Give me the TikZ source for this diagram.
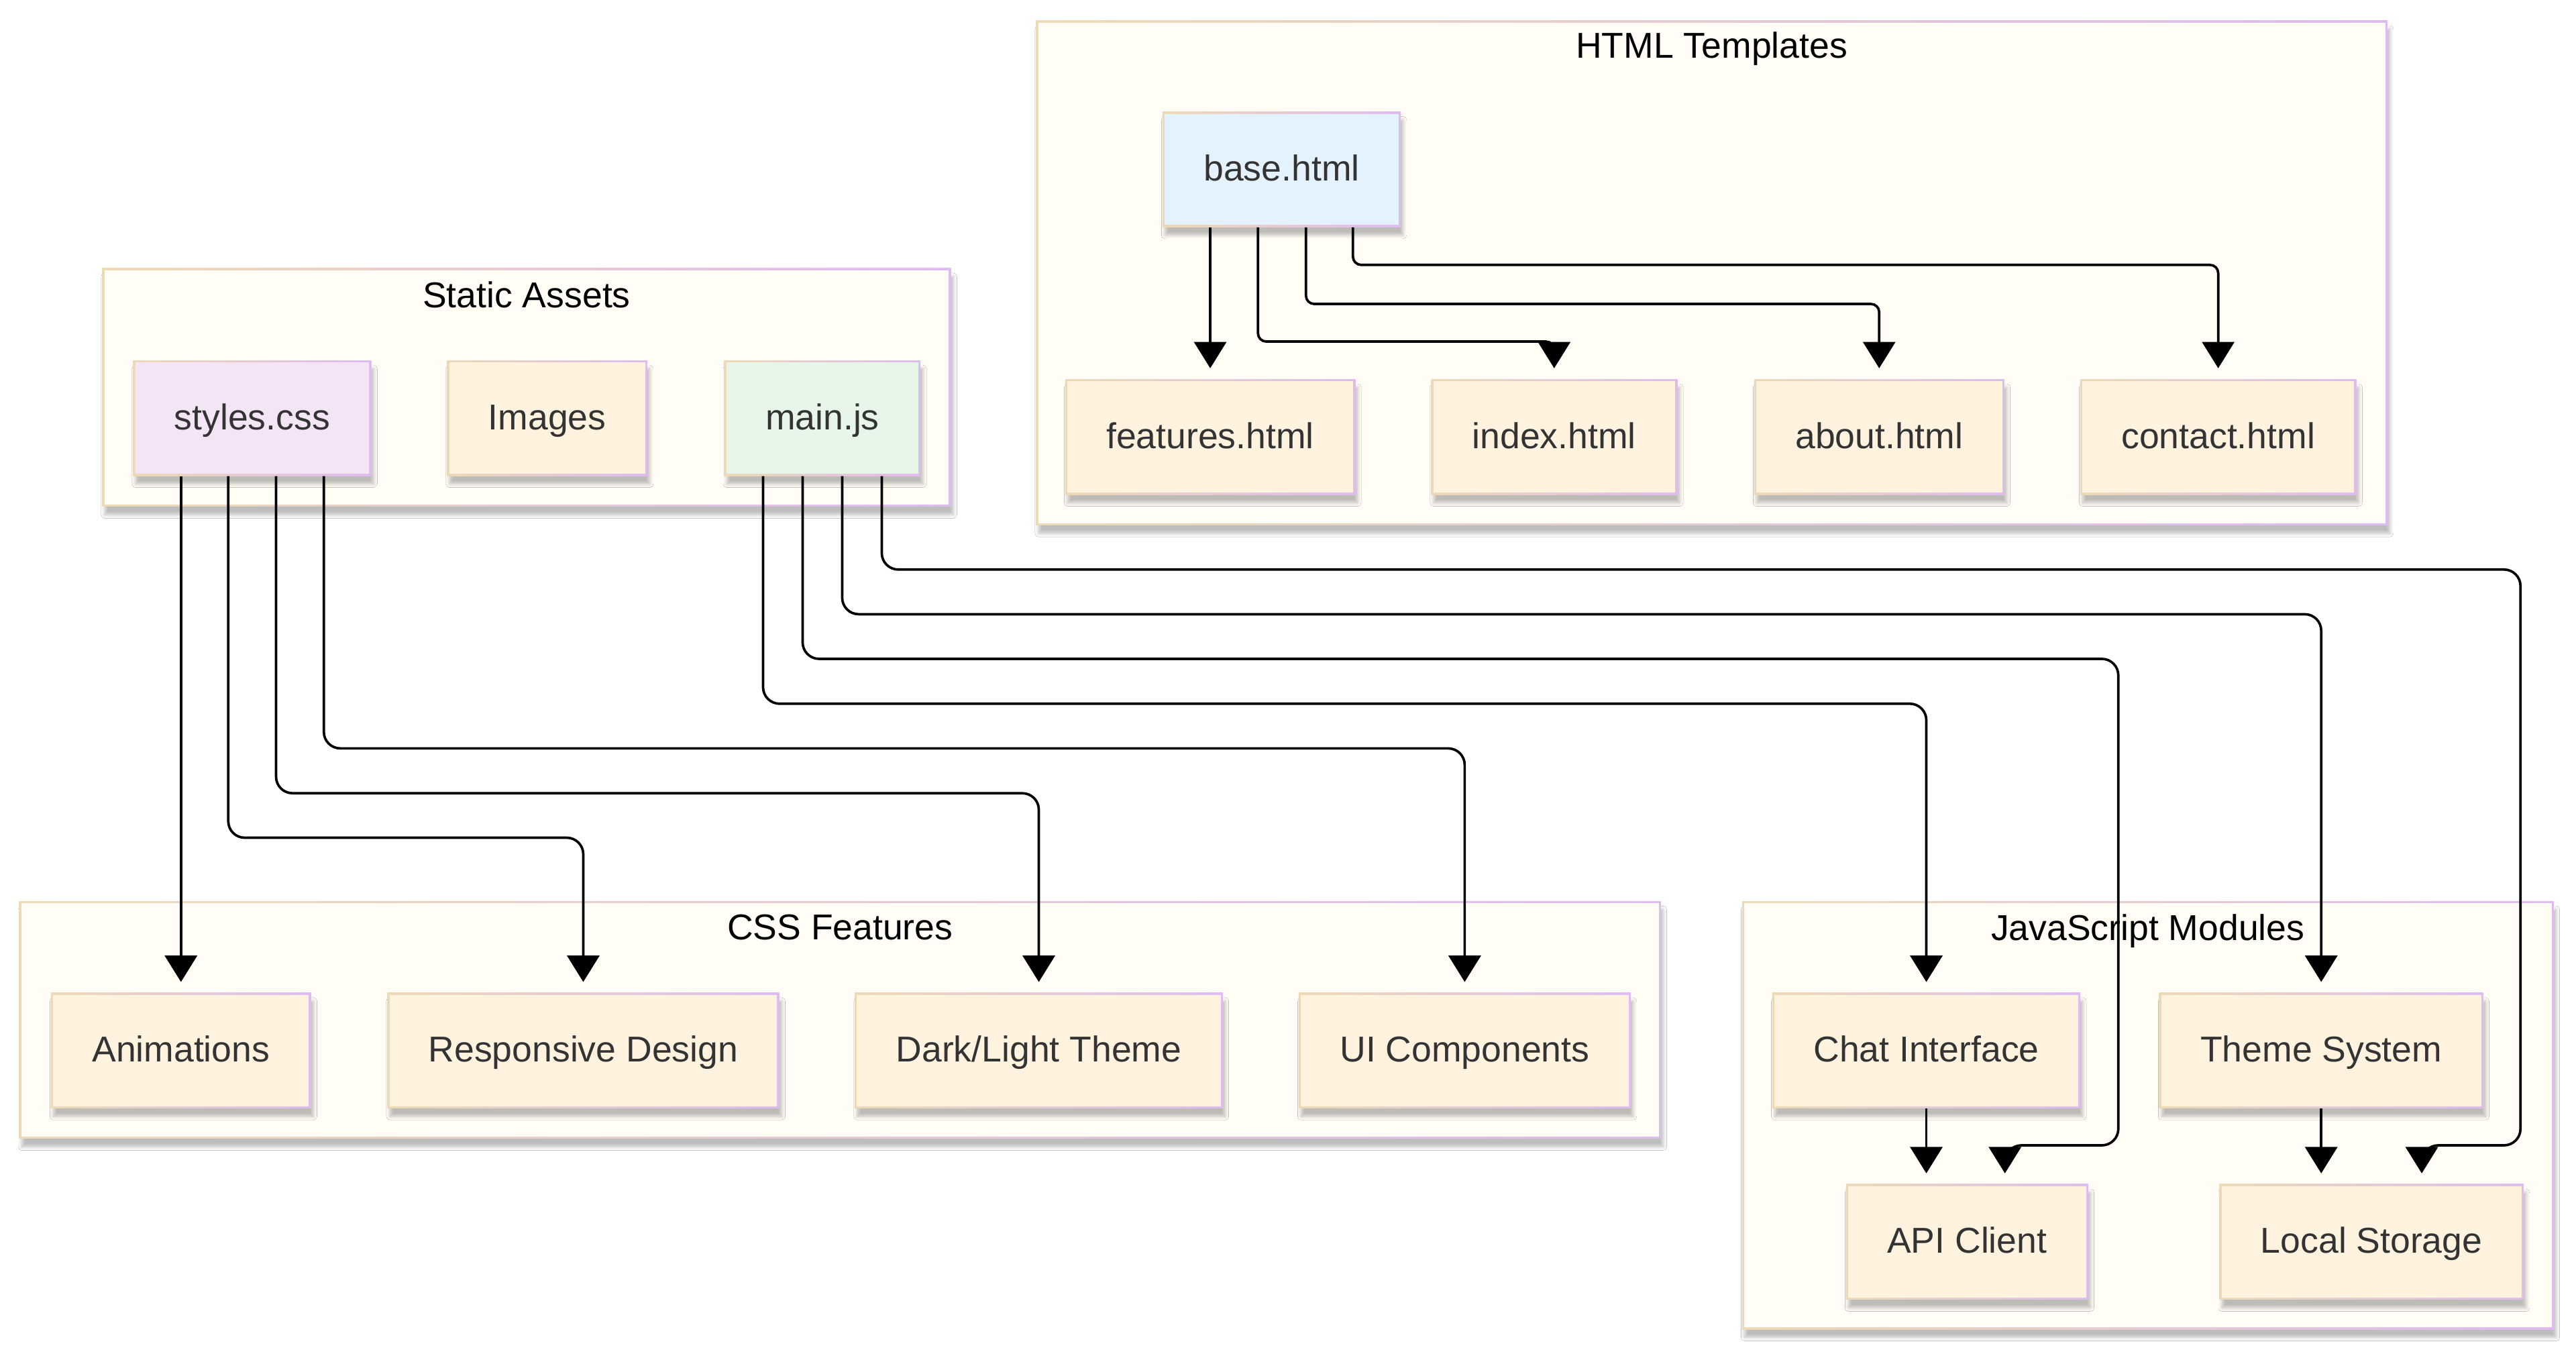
\documentclass[tikz,border=0pt]{standalone}
\usepackage{fontspec}
\setmainfont{Liberation Sans}
\usetikzlibrary{arrows.meta, positioning, shadows.blur}
\definecolor{nodecream}{HTML}{FFF3E0}
\definecolor{clustercream}{HTML}{FFFDF5}
\definecolor{htmlblue}{HTML}{E3F2FD}
\definecolor{cssviolet}{HTML}{F3E5F5}
\definecolor{jsgreen}{HTML}{E8F5E9}
\definecolor{bordertan}{RGB}{236,218,182}
\definecolor{borderlilac}{RGB}{222,188,240}
\definecolor{textgray}{HTML}{333333}

\begin{document}
\begin{tikzpicture}[x=1pt, y=-1pt,
  gradbox/.style={shade, left color=bordertan, right color=borderlilac,
    blur shadow={shadow xshift=1.5pt, shadow yshift=-5pt, shadow opacity=26, shadow blur steps=6},
    path picture={\fill[#1] ([shift={(1.3pt,-1.3pt)}]path picture bounding box.north west)
      rectangle ([shift={(-1.3pt,1.3pt)}]path picture bounding box.south east);}},
  file/.style={gradbox=#1, inner xsep=25pt, inner ysep=0pt, minimum height=70pt,
    text height=16pt, text depth=2.2pt, font=\fontsize{21.8pt}{26pt}\selectfont, text=textgray},
  file/.default=nodecream,
  groupbox/.style={gradbox=clustercream, inner sep=0pt},
  grouptitle/.style={text height=16pt, text depth=2.2pt, font=\fontsize{21.8pt}{26pt}\selectfont, text=black},
  link/.style={-{Triangle[length=16pt, width=19.5pt]}, line width=1.5pt, rounded corners=10pt, shorten >=6.4pt}]

\fill[white] (0,0) rectangle (1563,821);
\useasboundingbox (0,0) rectangle (1563,821);

% HTML Templates
\node[groupbox, minimum width=820pt, minimum height=306pt] (htmlgrp) at (1038.6,165.6) {};
\node[grouptitle] (htmltitle) at (1038.6,28.4) {HTML Templates};
\node[file=htmlblue] (base) at (777.6,102.7) {base.html};
\node[file] (features) at (734.3,265) {features.html};
\node[file] (index) at (943,265) {index.html};
\node[file] (about) at (1140.2,265) {about.html};
\node[file] (contact) at (1345.9,265) {contact.html};

% Static Assets
\node[groupbox, minimum width=515pt, minimum height=144.5pt] (staticgrp) at (319.5,235) {};
\node[grouptitle] (statictitle) at (319.5,179.6) {Static Assets};
\node[file=cssviolet] (styles) at (153,253.6) {styles.css};
\node[file] (images) at (332,253.6) {Images};
\node[file=jsgreen] (mainjs) at (499,253.6) {main.js};

% CSS Features
\node[groupbox, minimum width=996pt, minimum height=144pt] (cssgrp) at (509.7,618.7) {};
\node[grouptitle] (csstitle) at (509.7,563.2) {CSS Features};
\node[file] (anim) at (109.8,637.3) {Animations};
\node[file] (resp) at (353.9,637.3) {Responsive Design};
\node[file] (theme) at (630.3,637.3) {Dark/Light Theme};
\node[file] (uicomp) at (888.7,637.3) {UI Components};

% JavaScript Modules
\node[groupbox, minimum width=492.5pt, minimum height=259.7pt] (jsgrp) at (1303.2,676.5) {};
\node[grouptitle] (jstitle) at (1303.2,563.5) {JavaScript Modules};
\node[file] (chat) at (1168.8,637.3) {Chat Interface};
\node[file] (themesys) at (1408.4,637.3) {Theme System};
\node[file] (api) at (1193.5,753.4) {API Client};
\node[file] (local) at (1438.9,753.4) {Local Storage};

\coordinate (apibend) at (1285.3,694.8);
\coordinate (localbend) at (1529.3,694.8);

% base.html
\draw[link] (features.north |- base.south) -- (features.north);
\draw[link, rounded corners=5pt] ([xshift=-14.3pt]base.south) -- ++(0,69.3) -| (index.north);
\draw[link, rounded corners=5pt] ([xshift=14.8pt]base.south) -- ++(0,46.5) -| (about.north);
\draw[link, rounded corners=5pt] ([xshift=43.3pt]base.south) -- ++(0,22.8) -| (contact.north);

% styles.css
\draw[link] (anim.north |- styles.south) -- (anim.north);
\draw[link] ([xshift=-14.5pt]styles.south) -- ++(0,219.4) -| (resp.north);
\draw[link] ([xshift=14.5pt]styles.south) -- ++(0,192.4) -| (theme.north);
\draw[link] ([xshift=43.5pt]styles.south) -- ++(0,165.2) -| (uicomp.north);

% main.js
\draw[link] ([xshift=-36pt]mainjs.south) -- ++(0,138.1) -| (chat.north);
\draw[link] ([xshift=-12pt]mainjs.south) -- ++(0,110.9) -| (apibend) -| ([xshift=23pt]api.north);
\draw[link] ([xshift=12pt]mainjs.south) -- ++(0,83.8) -| (themesys.north);
\draw[link] ([xshift=36pt]mainjs.south) -- ++(0,56.7) -| (localbend) -| ([xshift=30.5pt]local.north);

% inside modules
\draw[link] (chat.south) -- (chat.south |- api.north);
\draw[link] (themesys.south) -- (themesys.south |- local.north);

\end{tikzpicture}
\end{document}
